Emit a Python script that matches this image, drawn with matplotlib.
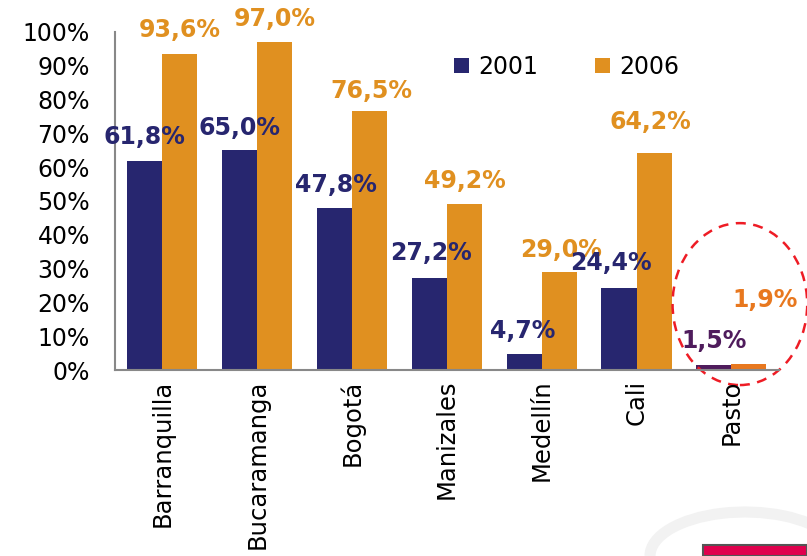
import numpy as np
import matplotlib
matplotlib.use('Agg')
import matplotlib.pyplot as plt
from matplotlib.patches import Ellipse, Rectangle, Arc

cities = ['Barranquilla', 'Bucaramanga', 'Bogotá', 'Manizales', 'Medellín', 'Cali', 'Pasto']
v2001 = [61.8, 65.0, 47.8, 27.2, 4.7, 24.4, 1.5]
v2006 = [93.6, 97.0, 76.5, 49.2, 29.0, 64.2, 1.9]
yticks = [0, 10, 20, 30, 40, 50, 60, 70, 80, 90, 100]

navy = '#27266F'
orange = '#E09020'
c01 = [navy] * 6 + ['#4F1C5C']
c06 = [orange] * 6 + ['#E8781F']

fig = plt.figure(figsize=(8.07, 5.56), dpi=100)
ax = fig.add_axes([0.1425, 0.3345, 0.8225, 0.608])

x = np.arange(len(cities))
w = 0.37
b1 = ax.bar(x - w / 2, v2001, w, color=c01, label='2001')
b2 = ax.bar(x + w / 2, v2006, w, color=c06, label='2006')

ax.set_xlim(-0.5, 6.5)
ax.set_ylim(0, 100)
ax.set_yticks(yticks)
ax.set_yticklabels([f'{t}%' for t in yticks], fontsize=17)
ax.set_xticks(x)
ax.set_xticklabels(cities, rotation=90, fontsize=17.5)
ax.tick_params(axis='y', length=0, pad=18)
ax.tick_params(axis='x', length=0, pad=7)
for s in ['top', 'right']:
    ax.spines[s].set_visible(False)
for s in ['left', 'bottom']:
    ax.spines[s].set_color('#888888')
    ax.spines[s].set_linewidth(1.5)

# value labels (offsets in points from bar top)
off01 = [(0, 17), (0, 16), (1, 17), (1, 18), (-1, 17), (-6, 18), (0, 17)]
off06 = [(0, 17), (0, 17), (1, 15), (0, 16), (1, 16), (-3, 22), (12, 46)]
for i in range(len(cities)):
    ax.annotate(f'{v2001[i]:.1f}%'.replace('.', ','), (x[i] - w / 2, v2001[i]),
                xytext=off01[i], textcoords='offset points', ha='center', va='center',
                fontsize=17, fontweight='bold', color=c01[i], annotation_clip=False)
    ax.annotate(f'{v2006[i]:.1f}%'.replace('.', ','), (x[i] + w / 2, v2006[i]),
                xytext=off06[i], textcoords='offset points', ha='center', va='center',
                fontsize=17, fontweight='bold', color=c06[i], annotation_clip=False)

ax.legend(loc='upper left', bbox_to_anchor=(0.478, 0.995), ncol=2, frameon=False,
          fontsize=17, handlelength=0.65, handleheight=0.65, handletextpad=0.4,
          columnspacing=2.4)

# dashed circle around Pasto
circ = Ellipse((6.09, 19.5), 1.42, 47.9, fill=False, ls=(0, (4, 3)), lw=1.8,
               edgecolor='#EE1C25', clip_on=False)
ax.add_patch(circ)

# faint decoration bottom right
fig.patches.append(Arc((745 / 807, 0), 190 / 807, 88 / 556, theta1=20, theta2=180,
                       transform=fig.transFigure, color='#F2F2F2', lw=8))
fig.patches.append(Rectangle((703 / 807, 0), 104 / 807, 11 / 556, transform=fig.transFigure,
                             facecolor='#E0004D', edgecolor='#555555', lw=1.5))

fig.savefig('out.png', dpi=100)
